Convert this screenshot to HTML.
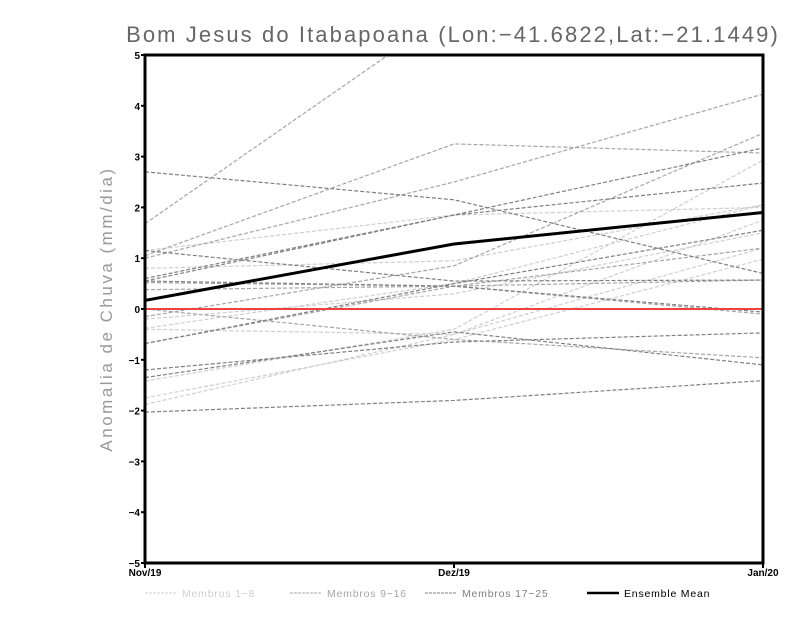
<!DOCTYPE html>
<html><head><meta charset="utf-8"><style>
body{margin:0;background:#fff;width:800px;height:618px;overflow:hidden}
svg{display:block;font-family:"Liberation Sans",sans-serif}
</style></head><body>
<svg id="c" width="800" height="618"></svg>
<script>
const categories = ["Nov/19","Dez/19","Jan/20"];
const yTicks = [-5,-4,-3,-2,-1,0,1,2,3,4,5];
const members1to8 = [[-1.88,-0.5,1.2],[-1.75,-0.6,0.98],[-1.42,-0.4,2.93],[-0.38,0.5,2.05],[-0.4,-0.5,1.75],[0.8,0.95,2.05],[1.15,1.85,2.0],[-0.2,0.3,1.5]];
const members9to16 = [[1.68,5.9,7],[1.05,3.25,3.07],[1.0,2.5,4.23],[0.52,0.45,-0.1],[0.38,0.45,0.57],[-0.15,0.85,3.46],[0.0,-0.6,-0.96],[-0.68,0.45,1.2]];
const members17to25 = [[2.7,2.15,0.7],[0.6,1.85,3.17],[0.55,1.85,2.48],[-0.68,0.5,1.55],[-1.2,-0.65,-0.47],[-1.35,-0.45,-1.1],[-2.03,-1.8,-1.41],[0.55,0.45,-0.06],[1.15,0.55,0.57]];
const ensembleMean = [0.17,1.28,1.9];

const NS="http://www.w3.org/2000/svg", svg=document.getElementById('c');
const L=145,R=763,T=55,B=563;
const x=i=>L+i*(R-L)/(categories.length-1);
const y=v=>B-(v+5)*(B-T)/10;
function mk(t,a,p){const e=document.createElementNS(NS,t);for(const k in a)e.setAttribute(k,a[k]);(p||svg).appendChild(e);return e;}
const defs=mk('defs',{});const cp=mk('clipPath',{id:'clip'},defs);mk('rect',{x:L,y:T,width:R-L,height:B-T},cp);
const g=mk('g',{'clip-path':'url(#clip)'});


function series(arr,color,name){arr.forEach((m,k)=>{const p=mk('polyline',{points:m.map((v,i)=>x(i)+','+y(v)).join(' '),fill:'none',stroke:color,'stroke-width':1.2,'stroke-dasharray':'4,2'},g);

});}
series(members1to8,'#cfcfcf','member-light');
series(members9to16,'#a6a6a6','member-mid');
series(members17to25,'#808080','member-dark');
const z=mk('line',{x1:L,x2:R,y1:y(0),y2:y(0),stroke:'#f04040','stroke-width':2},g);


const mean=mk('polyline',{points:ensembleMean.map((v,i)=>x(i)+','+y(v)).join(' '),fill:'none',stroke:'#000','stroke-width':3},g);


const fr=mk('rect',{x:L,y:T,width:R-L,height:B-T,fill:'none',stroke:'#000','stroke-width':3});


yTicks.forEach(v=>{mk('line',{x1:L-4,x2:L,y1:y(v),y2:y(v),stroke:'#000','stroke-width':2});
const t=mk('text',{x:L-5,y:y(v)+4,'text-anchor':'end','font-size':10,'font-weight':'bold'});t.textContent=(v<0?'\u2212'+(-v):v);

});
categories.forEach((c,i)=>{mk('line',{x1:x(i),x2:x(i),y1:B,y2:B+5,stroke:'#000','stroke-width':2});
const t=mk('text',{x:x(i),y:B+13,'text-anchor':'middle','font-size':10,'font-weight':'bold'});t.textContent=c;

});
const title=mk('text',{x:453,y:42,'text-anchor':'middle','font-size':22,fill:'#666','letter-spacing':'2.1'});title.textContent='Bom Jesus do Itabapoana (Lon:\u221241.6822,Lat:\u221221.1449)';


const yl=mk('text',{x:112,y:309,'text-anchor':'middle','font-size':17,fill:'#999',transform:'rotate(-90 112 309)','letter-spacing':'2.5'});yl.textContent='Anomalia de Chuva (mm/dia)';


const leg=[['Membros 1\u22128','#cfcfcf',145,1,'3,1'],['Membros 9\u221216','#a6a6a6',290,1,'3,1'],['Membros 17\u221225','#808080',425,1,'3,1'],['Ensemble Mean','#000',587,2.5,'']];
leg.forEach(l=>{mk('line',{x1:l[2],x2:l[2]+32,y1:593,y2:593,stroke:l[1],'stroke-width':l[3],'stroke-dasharray':l[4]});
const t=mk('text',{x:l[2]+37,y:597,'font-size':10.5,fill:l[1]==='#000'?'#000':l[1],'letter-spacing':'0.8'});t.textContent=l[0];

});
</script>
</body></html>
